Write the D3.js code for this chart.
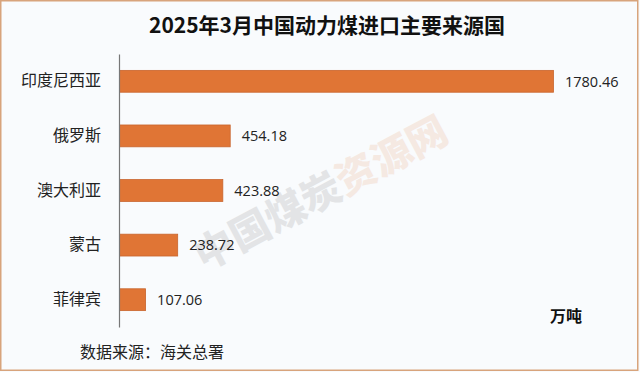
<!DOCTYPE html>
<html>
<head>
<meta charset="utf-8">
<script src="https://cdn.jsdelivr.net/npm/d3@7"></script>
<style>
  html, body { margin: 0; padding: 0; background: #ffffff; }
  svg { display: block; }
</style>
</head>
<body>
<svg id="chart" width="640" height="372"></svg>
<script>
const categories = ["印度尼西亚", "俄罗斯", "澳大利亚", "蒙古", "菲律宾"];
const values = [1780.46, 454.18, 423.88, 238.72, 107.06];
const valueLabels = ["1780.46", "454.18", "423.88", "238.72", "107.06"];
const titleText = "2025年3月中国动力煤进口主要来源国";
const unitText = "万吨";
const sourceText = "数据来源：海关总署";

const W = 640, H = 372;
const svg = d3.select("#chart");
const fontCJK = "'Noto Sans CJK SC', 'Noto Sans', sans-serif";

// background + border
svg.append("rect").attr("x", 0).attr("y", 0).attr("width", W).attr("height", H).attr("fill", "#f9fbfd");
svg.append("rect").attr("x", 0.75).attr("y", 0.75).attr("width", W - 3).attr("height", H - 2.5)
  .attr("fill", "none").attr("stroke", "#d8a47c").attr("stroke-width", 1.5);

// faint watermark
const wm = svg.append("g").attr("transform", "translate(310,215) rotate(-28)").attr("opacity", 0.13);
wm.append("text").attr("x", -120).attr("y", 0).attr("font-family", fontCJK).attr("font-weight", 900)
  .attr("font-size", 40).attr("fill", "#555").text("中国煤炭");
wm.append("text").attr("x", 40).attr("y", 0).attr("font-family", fontCJK).attr("font-weight", 900)
  .attr("font-size", 40).attr("fill", "#e07535").text("资源网");

const x0 = 119;
const x = d3.scaleLinear().domain([0, 1780.46]).range([x0, 553]);
const y = d3.scaleBand().domain(categories).range([54, 327]).paddingInner(0.6).paddingOuter(0.3);

// title
svg.append("text").attr("x", 327).attr("y", 33).attr("text-anchor", "middle")
  .attr("font-family", fontCJK).attr("font-weight", "bold").attr("font-size", 21)
  .attr("fill", "#111").text(titleText);

// bars
svg.selectAll("rect.bar").data(values).join("rect").attr("class", "bar")
  .attr("x", x(0) + 0.5)
  .attr("y", (d, i) => y(categories[i]))
  .attr("width", d => x(d) - x(0))
  .attr("height", y.bandwidth())
  .attr("fill", "#e07535")
  .attr("stroke", "#c8652e").attr("stroke-width", 0.8);

// axis (y) line only
const yAxis = d3.axisLeft(y).tickSize(0).tickPadding(18);
const ga = svg.append("g").attr("transform", `translate(${x0},0)`).call(yAxis);
ga.select(".domain").attr("stroke", "#777").attr("stroke-width", 1.2);
ga.selectAll("text").attr("font-family", fontCJK).attr("font-size", 16).attr("fill", "#222");

// value labels
svg.selectAll("text.val").data(values).join("text").attr("class", "val")
  .attr("x", d => x(d) + 12)
  .attr("y", (d, i) => y(categories[i]) + y.bandwidth() / 2)
  .attr("dy", "0.36em")
  .attr("font-family", "'Open Sans', 'DejaVu Sans', sans-serif").attr("font-size", 14.5)
  .attr("fill", "#222")
  .text((d, i) => valueLabels[i]);

// unit
svg.append("text").attr("x", 550).attr("y", 322)
  .attr("font-family", fontCJK).attr("font-weight", "bold").attr("font-size", 16)
  .attr("fill", "#111").text(unitText);

// source
svg.append("text").attr("x", 80).attr("y", 358)
  .attr("font-family", fontCJK).attr("font-size", 16)
  .attr("fill", "#222").text(sourceText);
</script>
</body>
</html>
